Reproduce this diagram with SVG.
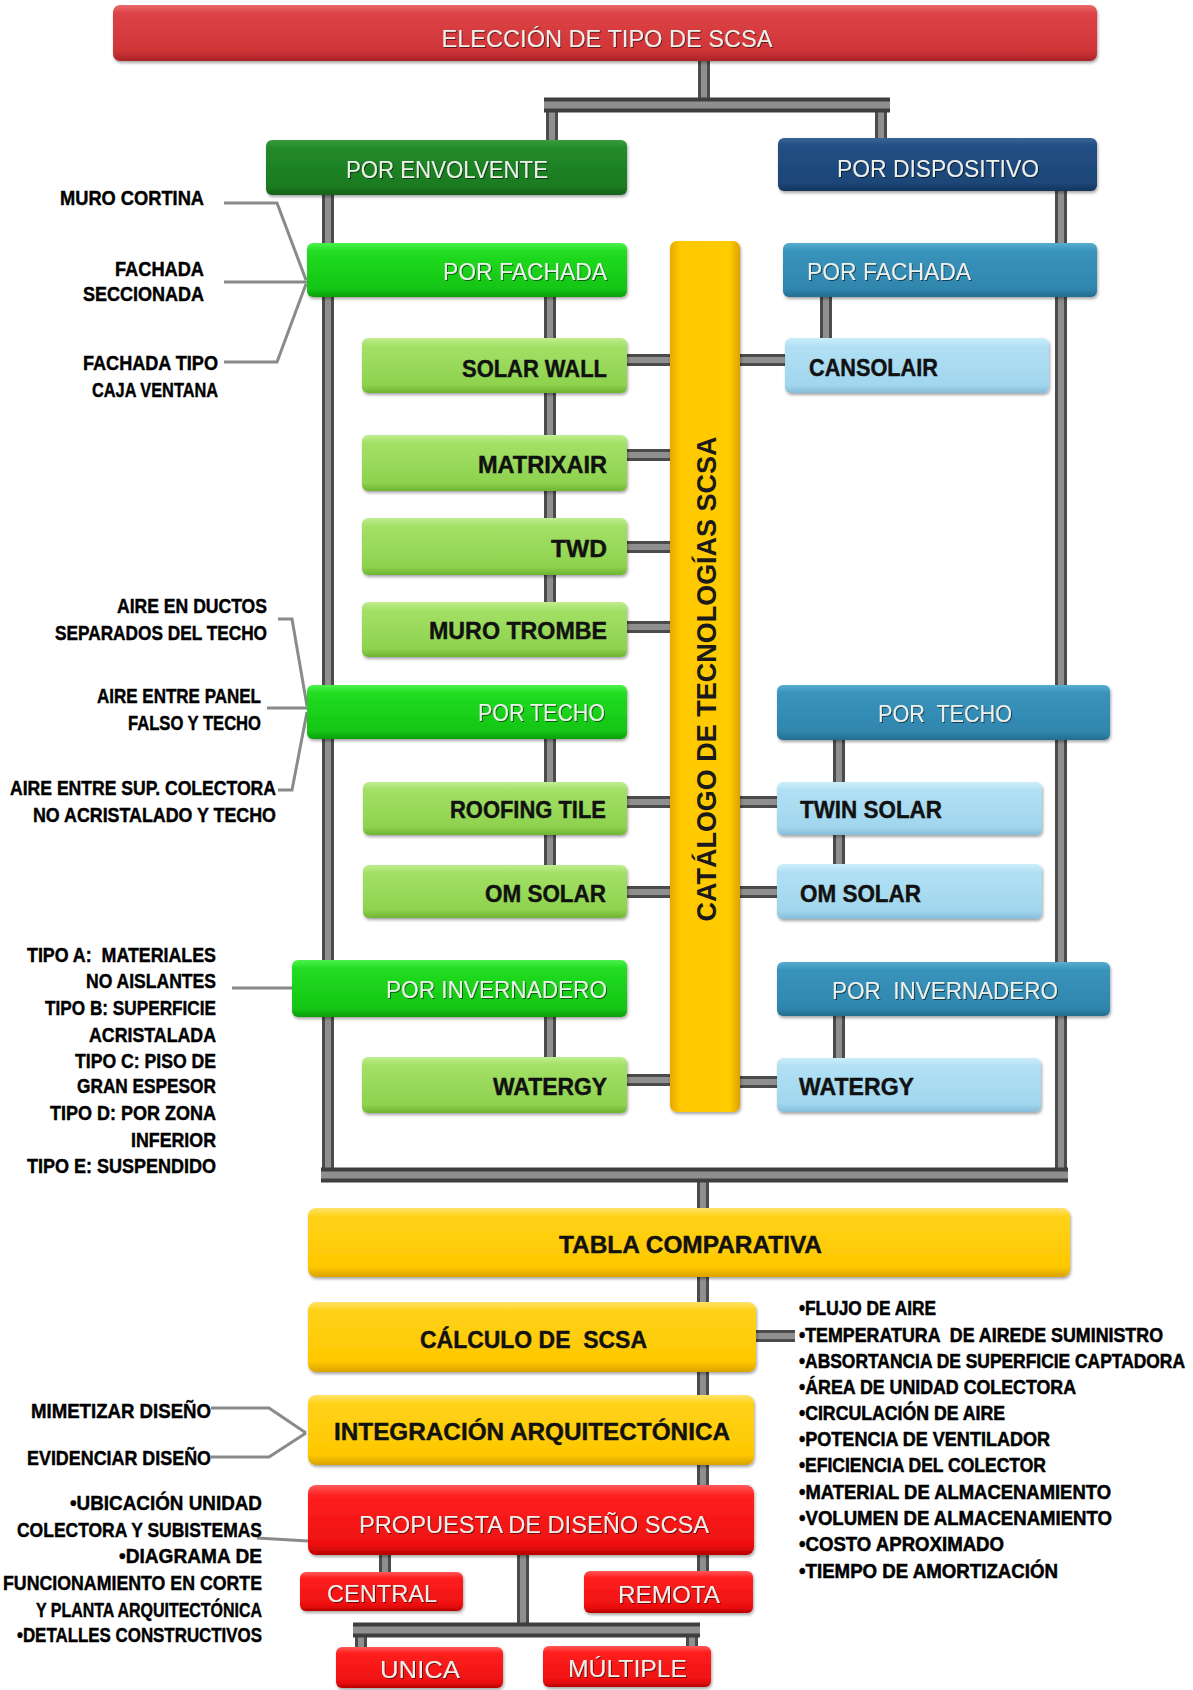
<svg xmlns="http://www.w3.org/2000/svg" xmlns:xlink="http://www.w3.org/1999/xlink" width="1193" height="1690" viewBox="0 0 1193 1690">
  <style>
    text { font-family: "Liberation Sans", Arial, sans-serif; white-space: pre; }
    .box { filter: url(#bs); }
    .lt { fill: #eef0ec; font-size: 24px; filter: url(#ts); }
    .dk { fill: #111; font-size: 23px; font-weight: bold; stroke: #111; stroke-width: 0.4; }
    .note { fill: #000; font-size: 21px; font-weight: bold; text-anchor: end; stroke: #000; stroke-width: 0.45; }
    .list { fill: #000; font-size: 17px; font-weight: bold; stroke: #000; stroke-width: 0.45; }
    .mid { text-anchor: middle; }
    .end { text-anchor: end; }
    .wire-edge { fill: none; stroke: #4b4b4b; stroke-width: 12; }
    .wire-core { fill: none; stroke: #8f8f8f; stroke-width: 6; }
    .bar-edge { fill: none; stroke: #3e3e3e; stroke-width: 15; }
    .bar-core { fill: none; stroke: #8f8f8f; stroke-width: 7; }
    .thin { fill: none; stroke: #8a8a8a; stroke-width: 3; }
  </style>
  <defs>
    <filter id="bs" x="-5%" y="-20%" width="110%" height="150%">
      <feDropShadow dx="1" dy="2" stdDeviation="1.5" flood-color="#000" flood-opacity="0.35"/>
    </filter>
    <filter id="ts" x="-5%" y="-30%" width="110%" height="160%">
      <feDropShadow dx="1" dy="1" stdDeviation="0.6" flood-color="#000" flood-opacity="0.55"/>
    </filter>
    <linearGradient id="gTitle" x1="0" y1="0" x2="0" y2="1">
      <stop offset="0" stop-color="#ea6a6c"/><stop offset="0.15" stop-color="#dc4346"/>
      <stop offset="0.8" stop-color="#d03538"/><stop offset="1" stop-color="#a82427"/>
    </linearGradient>
    <linearGradient id="gDkGreen" x1="0" y1="0" x2="0" y2="1">
      <stop offset="0" stop-color="#3a9a3e"/><stop offset="0.15" stop-color="#228a28"/>
      <stop offset="0.85" stop-color="#1b7a20"/><stop offset="1" stop-color="#12601a"/>
    </linearGradient>
    <linearGradient id="gNavy" x1="0" y1="0" x2="0" y2="1">
      <stop offset="0" stop-color="#3a6496"/><stop offset="0.15" stop-color="#224f84"/>
      <stop offset="0.85" stop-color="#1d4677"/><stop offset="1" stop-color="#14355c"/>
    </linearGradient>
    <linearGradient id="gGreen" x1="0" y1="0" x2="0" y2="1">
      <stop offset="0" stop-color="#4df24d"/><stop offset="0.15" stop-color="#22dd22"/>
      <stop offset="0.85" stop-color="#14c514"/><stop offset="1" stop-color="#0c9e0c"/>
    </linearGradient>
    <linearGradient id="gLime" x1="0" y1="0" x2="0" y2="1">
      <stop offset="0" stop-color="#c0ee90"/><stop offset="0.15" stop-color="#a3e066"/>
      <stop offset="0.85" stop-color="#8ed24e"/><stop offset="1" stop-color="#6fb332"/>
    </linearGradient>
    <linearGradient id="gTeal" x1="0" y1="0" x2="0" y2="1">
      <stop offset="0" stop-color="#57acd0"/><stop offset="0.15" stop-color="#3993bb"/>
      <stop offset="0.85" stop-color="#2f86ae"/><stop offset="1" stop-color="#246d8f"/>
    </linearGradient>
    <linearGradient id="gSky" x1="0" y1="0" x2="0" y2="1">
      <stop offset="0" stop-color="#cdeefb"/><stop offset="0.15" stop-color="#b1e0f4"/>
      <stop offset="0.85" stop-color="#a1d6ee"/><stop offset="1" stop-color="#86bcd8"/>
    </linearGradient>
    <linearGradient id="gYellow" x1="0" y1="0" x2="0" y2="1">
      <stop offset="0" stop-color="#ffe36a"/><stop offset="0.12" stop-color="#ffd21a"/>
      <stop offset="0.85" stop-color="#ffc800"/><stop offset="1" stop-color="#d9a300"/>
    </linearGradient>
    <linearGradient id="gCatalog" x1="0" y1="0" x2="1" y2="0">
      <stop offset="0" stop-color="#e8a800"/><stop offset="0.15" stop-color="#ffc800"/>
      <stop offset="0.85" stop-color="#ffcc00"/><stop offset="1" stop-color="#e0a000"/>
    </linearGradient>
    <linearGradient id="gRed" x1="0" y1="0" x2="0" y2="1">
      <stop offset="0" stop-color="#ff5a5a"/><stop offset="0.15" stop-color="#ff2020"/>
      <stop offset="0.85" stop-color="#ee1010"/><stop offset="1" stop-color="#b80000"/>
    </linearGradient>
    <!-- connector geometry, drawn twice for a bevelled look -->
    <path id="wires" d="M704 61V99 M552 112V140 M881 112V138
      M328 195V1175 M1061 191V1175 M703 1182V1208
      M550 297V630 M550 739V892 M550 1016V1080
      M826 297V362 M839 740V892 M839 1016V1084
      M627 360H670 M627 455H670 M627 547H670 M627 627H670 M627 802H670 M627 892H670 M627 1080H670
      M740 360H785 M740 802H777 M740 892H777 M740 1082H777
      M703 1277V1302 M703 1372V1395 M703 1465V1485 M703 1555V1571
      M756 1336H795
      M385 1555V1572 M523 1555V1630 M361 1630V1647 M692 1630V1646"/>
    <path id="bars" d="M544 105H890 M321 1175H1068 M353 1630H700"/>
  </defs>

  <rect width="1193" height="1690" fill="#fff"/>

  <g id="connectors">
    <use href="#wires" class="wire-edge"/>
    <use href="#wires" class="wire-core"/>
    <use href="#bars" class="bar-edge"/>
    <use href="#bars" class="bar-core"/>
    <path class="thin" d="M224 203H277L306 280 M224 282H307 M224 362H277L306 284
      M278 619H292L307 706 M267 708H307 M278 790H292L307 712
      M232 988H293
      M211 1408H269L306 1433 M211 1457H269L306 1433
      M257 1538L308 1541"/>
  </g>

  <g id="node-eleccion">
    <rect class="box" x="113" y="5" width="984" height="56" rx="7" fill="url(#gTitle)"/>
    <text class="lt mid" x="607" y="47" font-size="26" textLength="331" lengthAdjust="spacingAndGlyphs">ELECCIÓN DE TIPO DE SCSA</text>
  </g>

  <g id="node-envolvente">
    <rect class="box" x="266" y="140" width="361" height="55" rx="6" fill="url(#gDkGreen)"/>
    <text class="lt mid" x="447" y="178" textLength="202" lengthAdjust="spacingAndGlyphs">POR ENVOLVENTE</text>
  </g>
  <g id="node-dispositivo">
    <rect class="box" x="778" y="138" width="319" height="53" rx="6" fill="url(#gNavy)"/>
    <text class="lt mid" x="938" y="177" textLength="202" lengthAdjust="spacingAndGlyphs">POR DISPOSITIVO</text>
  </g>

  <g id="node-catalogo">
    <rect class="box" x="670" y="241" width="70" height="871" rx="7" fill="url(#gCatalog)"/>
    <text transform="translate(716 679) rotate(-90)" class="mid" x="0" y="0" font-size="28" font-weight="bold" fill="#1a1a1a" textLength="485" lengthAdjust="spacingAndGlyphs">CATÁLOGO DE TECNOLOGÍAS SCSA</text>
  </g>

  <!-- envelope branch -->
  <g id="node-env-fachada">
    <rect class="box" x="307" y="243" width="320" height="54" rx="6" fill="url(#gGreen)"/>
    <text class="lt end" x="607" y="280" textLength="164" lengthAdjust="spacingAndGlyphs">POR FACHADA</text>
  </g>
  <g id="node-solarwall">
    <rect class="box" x="362" y="338" width="265" height="55" rx="6" fill="url(#gLime)"/>
    <text class="dk end" x="607" y="377" textLength="145" lengthAdjust="spacingAndGlyphs">SOLAR WALL</text>
  </g>
  <g id="node-matrixair">
    <rect class="box" x="362" y="435" width="265" height="56" rx="6" fill="url(#gLime)"/>
    <text class="dk end" x="607" y="473" textLength="129" lengthAdjust="spacingAndGlyphs">MATRIXAIR</text>
  </g>
  <g id="node-twd">
    <rect class="box" x="362" y="518" width="265" height="57" rx="6" fill="url(#gLime)"/>
    <text class="dk end" x="607" y="557" textLength="56" lengthAdjust="spacingAndGlyphs">TWD</text>
  </g>
  <g id="node-murotrombe">
    <rect class="box" x="362" y="602" width="265" height="55" rx="6" fill="url(#gLime)"/>
    <text class="dk end" x="607" y="639" textLength="178" lengthAdjust="spacingAndGlyphs">MURO TROMBE</text>
  </g>
  <g id="node-env-techo">
    <rect class="box" x="307" y="685" width="320" height="54" rx="6" fill="url(#gGreen)"/>
    <text class="lt end" x="605" y="721" textLength="127" lengthAdjust="spacingAndGlyphs">POR TECHO</text>
  </g>
  <g id="node-roofingtile">
    <rect class="box" x="363" y="782" width="264" height="53" rx="6" fill="url(#gLime)"/>
    <text class="dk end" x="606" y="818" textLength="156" lengthAdjust="spacingAndGlyphs">ROOFING TILE</text>
  </g>
  <g id="node-omsolar-env">
    <rect class="box" x="363" y="865" width="264" height="53" rx="6" fill="url(#gLime)"/>
    <text class="dk end" x="606" y="902" textLength="121" lengthAdjust="spacingAndGlyphs">OM SOLAR</text>
  </g>
  <g id="node-env-invernadero">
    <rect class="box" x="292" y="960" width="335" height="57" rx="6" fill="url(#gGreen)"/>
    <text class="lt end" x="607" y="998" textLength="221" lengthAdjust="spacingAndGlyphs">POR INVERNADERO</text>
  </g>
  <g id="node-watergy-env">
    <rect class="box" x="362" y="1057" width="265" height="56" rx="6" fill="url(#gLime)"/>
    <text class="dk end" x="607" y="1095" textLength="114" lengthAdjust="spacingAndGlyphs">WATERGY</text>
  </g>

  <!-- device branch -->
  <g id="node-dis-fachada">
    <rect class="box" x="783" y="243" width="314" height="54" rx="6" fill="url(#gTeal)"/>
    <text class="lt" x="807" y="280" textLength="164" lengthAdjust="spacingAndGlyphs">POR FACHADA</text>
  </g>
  <g id="node-cansolair">
    <rect class="box" x="785" y="338" width="264" height="55" rx="6" fill="url(#gSky)"/>
    <text class="dk" x="809" y="376" textLength="129" lengthAdjust="spacingAndGlyphs">CANSOLAIR</text>
  </g>
  <g id="node-dis-techo">
    <rect class="box" x="777" y="685" width="333" height="55" rx="6" fill="url(#gTeal)"/>
    <text class="lt" x="878" y="722" textLength="134" lengthAdjust="spacingAndGlyphs">POR  TECHO</text>
  </g>
  <g id="node-twinsolar">
    <rect class="box" x="777" y="782" width="265" height="53" rx="6" fill="url(#gSky)"/>
    <text class="dk" x="800" y="818" textLength="142" lengthAdjust="spacingAndGlyphs">TWIN SOLAR</text>
  </g>
  <g id="node-omsolar-dis">
    <rect class="box" x="777" y="864" width="265" height="55" rx="6" fill="url(#gSky)"/>
    <text class="dk" x="800" y="902" textLength="121" lengthAdjust="spacingAndGlyphs">OM SOLAR</text>
  </g>
  <g id="node-dis-invernadero">
    <rect class="box" x="777" y="962" width="333" height="54" rx="6" fill="url(#gTeal)"/>
    <text class="lt" x="832" y="999" textLength="226" lengthAdjust="spacingAndGlyphs">POR  INVERNADERO</text>
  </g>
  <g id="node-watergy-dis">
    <rect class="box" x="777" y="1058" width="264" height="54" rx="6" fill="url(#gSky)"/>
    <text class="dk" x="799" y="1095" textLength="115" lengthAdjust="spacingAndGlyphs">WATERGY</text>
  </g>

  <!-- process chain -->
  <g id="node-tabla">
    <rect class="box" x="308" y="1208" width="762" height="69" rx="8" fill="url(#gYellow)"/>
    <text class="dk" x="559" y="1253" font-size="24" textLength="263" lengthAdjust="spacingAndGlyphs">TABLA COMPARATIVA</text>
  </g>
  <g id="node-calculo">
    <rect class="box" x="308" y="1302" width="448" height="70" rx="8" fill="url(#gYellow)"/>
    <text class="dk" x="420" y="1348" font-size="25" textLength="227" lengthAdjust="spacingAndGlyphs">CÁLCULO DE  SCSA</text>
  </g>
  <g id="node-integracion">
    <rect class="box" x="308" y="1395" width="446" height="70" rx="8" fill="url(#gYellow)"/>
    <text class="dk" x="334" y="1440" font-size="25" textLength="396" lengthAdjust="spacingAndGlyphs">INTEGRACIÓN ARQUITECTÓNICA</text>
  </g>
  <g id="node-propuesta">
    <rect class="box" x="308" y="1485" width="446" height="70" rx="8" fill="url(#gRed)"/>
    <text class="lt" x="359" y="1533" font-size="26" textLength="350" lengthAdjust="spacingAndGlyphs">PROPUESTA DE DISEÑO SCSA</text>
  </g>
  <g id="node-central">
    <rect class="box" x="300" y="1572" width="163" height="39" rx="6" fill="url(#gRed)"/>
    <text class="lt" x="327" y="1602" font-size="27" textLength="110" lengthAdjust="spacingAndGlyphs">CENTRAL</text>
  </g>
  <g id="node-remota">
    <rect class="box" x="584" y="1571" width="169" height="42" rx="6" fill="url(#gRed)"/>
    <text class="lt" x="618" y="1603" font-size="27" textLength="102" lengthAdjust="spacingAndGlyphs">REMOTA</text>
  </g>
  <g id="node-unica">
    <rect class="box" x="336" y="1647" width="167" height="41" rx="6" fill="url(#gRed)"/>
    <text class="lt" x="380" y="1678" font-size="27" textLength="80" lengthAdjust="spacingAndGlyphs">UNICA</text>
  </g>
  <g id="node-multiple">
    <rect class="box" x="543" y="1646" width="168" height="41" rx="6" fill="url(#gRed)"/>
    <text class="lt" x="568" y="1677" font-size="27" textLength="119" lengthAdjust="spacingAndGlyphs">MÚLTIPLE</text>
  </g>

  <!-- side notes -->
  <g id="notes-fachada">
    <text class="note" x="204" y="205" textLength="144" lengthAdjust="spacingAndGlyphs">MURO CORTINA</text>
    <text class="note" x="204" y="276" textLength="89" lengthAdjust="spacingAndGlyphs">FACHADA</text>
    <text class="note" x="204" y="301" textLength="121" lengthAdjust="spacingAndGlyphs">SECCIONADA</text>
    <text class="note" x="218" y="370" textLength="135" lengthAdjust="spacingAndGlyphs">FACHADA TIPO</text>
    <text class="note" x="218" y="397" textLength="126" lengthAdjust="spacingAndGlyphs">CAJA VENTANA</text>
  </g>
  <g id="notes-techo">
    <text class="note" x="267" y="613" textLength="150" lengthAdjust="spacingAndGlyphs">AIRE EN DUCTOS</text>
    <text class="note" x="267" y="640" textLength="212" lengthAdjust="spacingAndGlyphs">SEPARADOS DEL TECHO</text>
    <text class="note" x="261" y="703" textLength="164" lengthAdjust="spacingAndGlyphs">AIRE ENTRE PANEL</text>
    <text class="note" x="261" y="730" textLength="133" lengthAdjust="spacingAndGlyphs">FALSO Y TECHO</text>
    <text class="note" x="276" y="795" textLength="266" lengthAdjust="spacingAndGlyphs">AIRE ENTRE SUP. COLECTORA</text>
    <text class="note" x="276" y="822" textLength="243" lengthAdjust="spacingAndGlyphs">NO ACRISTALADO Y TECHO</text>
  </g>
  <g id="notes-invernadero">
    <text class="note" x="216" y="962" textLength="189" lengthAdjust="spacingAndGlyphs">TIPO A:  MATERIALES</text>
    <text class="note" x="216" y="988" textLength="130" lengthAdjust="spacingAndGlyphs">NO AISLANTES</text>
    <text class="note" x="216" y="1015" textLength="171" lengthAdjust="spacingAndGlyphs">TIPO B: SUPERFICIE</text>
    <text class="note" x="216" y="1042" textLength="127" lengthAdjust="spacingAndGlyphs">ACRISTALADA</text>
    <text class="note" x="216" y="1068" textLength="141" lengthAdjust="spacingAndGlyphs">TIPO C: PISO DE</text>
    <text class="note" x="216" y="1093" textLength="139" lengthAdjust="spacingAndGlyphs">GRAN ESPESOR</text>
    <text class="note" x="216" y="1120" textLength="166" lengthAdjust="spacingAndGlyphs">TIPO D: POR ZONA</text>
    <text class="note" x="216" y="1147" textLength="85" lengthAdjust="spacingAndGlyphs">INFERIOR</text>
    <text class="note" x="216" y="1173" textLength="189" lengthAdjust="spacingAndGlyphs">TIPO E: SUSPENDIDO</text>
  </g>
  <g id="notes-integracion">
    <text class="note" x="211" y="1418" textLength="180" lengthAdjust="spacingAndGlyphs">MIMETIZAR DISEÑO</text>
    <text class="note" x="211" y="1465" textLength="184" lengthAdjust="spacingAndGlyphs">EVIDENCIAR DISEÑO</text>
  </g>
  <g id="notes-propuesta">
    <text class="note" x="262" y="1510" textLength="192" lengthAdjust="spacingAndGlyphs">•UBICACIÓN UNIDAD</text>
    <text class="note" x="262" y="1537" textLength="245" lengthAdjust="spacingAndGlyphs">COLECTORA Y SUBISTEMAS</text>
    <text class="note" x="262" y="1563" textLength="143" lengthAdjust="spacingAndGlyphs">•DIAGRAMA DE</text>
    <text class="note" x="262" y="1590" textLength="259" lengthAdjust="spacingAndGlyphs">FUNCIONAMIENTO EN CORTE</text>
    <text class="note" x="262" y="1617" textLength="226" lengthAdjust="spacingAndGlyphs">Y PLANTA ARQUITECTÓNICA</text>
    <text class="note" x="262" y="1642" textLength="245" lengthAdjust="spacingAndGlyphs">•DETALLES CONSTRUCTIVOS</text>
  </g>
  <!-- parameter list: glyphs stretched vertically to keep the lines compact -->
  <g id="notes-calculo" transform="translate(0 1315) scale(1 1.17)">
    <text class="list" x="799" y="0" textLength="137" lengthAdjust="spacingAndGlyphs">•FLUJO DE AIRE</text>
    <text class="list" x="799" y="23.08" textLength="364" lengthAdjust="spacingAndGlyphs">•TEMPERATURA  DE AIREDE SUMINISTRO</text>
    <text class="list" x="799" y="45.3" textLength="386" lengthAdjust="spacingAndGlyphs">•ABSORTANCIA DE SUPERFICIE CAPTADORA</text>
    <text class="list" x="799" y="67.52" textLength="277" lengthAdjust="spacingAndGlyphs">•ÁREA DE UNIDAD COLECTORA</text>
    <text class="list" x="799" y="89.74" textLength="206" lengthAdjust="spacingAndGlyphs">•CIRCULACIÓN DE AIRE</text>
    <text class="list" x="799" y="111.97" textLength="251" lengthAdjust="spacingAndGlyphs">•POTENCIA DE VENTILADOR</text>
    <text class="list" x="799" y="134.19" textLength="247" lengthAdjust="spacingAndGlyphs">•EFICIENCIA DEL COLECTOR</text>
    <text class="list" x="799" y="157.26" textLength="312" lengthAdjust="spacingAndGlyphs">•MATERIAL DE ALMACENAMIENTO</text>
    <text class="list" x="799" y="179.49" textLength="313" lengthAdjust="spacingAndGlyphs">•VOLUMEN DE ALMACENAMIENTO</text>
    <text class="list" x="799" y="201.71" textLength="205" lengthAdjust="spacingAndGlyphs">•COSTO APROXIMADO</text>
    <text class="list" x="799" y="224.79" textLength="259" lengthAdjust="spacingAndGlyphs">•TIEMPO DE AMORTIZACIÓN</text>
  </g>
</svg>
